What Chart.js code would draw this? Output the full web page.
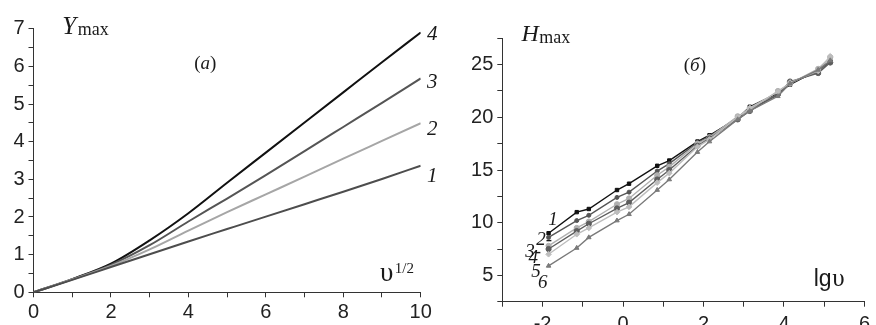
<!DOCTYPE html>
<html>
<head>
<meta charset="utf-8">
<script src="https://cdn.jsdelivr.net/npm/chart.js@4.4.1/dist/chart.umd.min.js"></script>
<style>
  html, body { margin: 0; padding: 0; background: #fff; }
  #wrap { position: relative; width: 876px; height: 325px; overflow: hidden; }
  #left { position: absolute; left: 0; top: 0; }
  #right { position: absolute; left: 440px; top: 0; }
</style>
</head>
<body>
<div id="wrap">
  <canvas id="left" width="440" height="325"></canvas>
  <canvas id="right" width="436" height="325"></canvas>
</div>
<script>
// ===== PANEL (a) DATA =====
const sqrtU = [0, 1, 2, 3, 4, 5, 6, 7, 8, 9, 10];
const yMax1 = [0, 0.33, 0.67, 1.01, 1.35, 1.68, 2.01, 2.34, 2.67, 3.01, 3.36];
const yMax2 = [0, 0.34, 0.70, 1.14, 1.64, 2.13, 2.60, 3.07, 3.55, 4.02, 4.49];
const yMax3 = [0, 0.35, 0.73, 1.25, 1.88, 2.49, 3.11, 3.75, 4.39, 5.03, 5.68];
const yMax4 = [0, 0.35, 0.76, 1.38, 2.10, 2.91, 3.71, 4.51, 5.31, 6.11, 6.90];

// ===== PANEL (б) DATA =====
const lgU = [-1.85, -1.15, -0.85, -0.15, 0.15, 0.85, 1.15, 1.85, 2.15, 2.85, 3.15, 3.85, 4.15, 4.85, 5.15];
const hMax1 = [9.0, 11.0, 11.3, 13.1, 13.7, 15.4, 15.9, 17.7, 18.3, 19.9, 21.0, 22.3, 23.1, 24.5, 25.3];
const hMax2 = [8.6, 10.2, 10.7, 12.4, 12.9, 14.9, 15.6, 17.6, 18.2, 20.0, 20.8, 22.1, 23.3, 24.3, 25.4];
const hMax3 = [7.8, 9.5, 10.1, 11.75, 12.3, 14.5, 15.3, 17.5, 18.1, 20.1, 20.7, 22.5, 23.2, 24.6, 25.7];
const hMax4 = [7.5, 9.2, 9.9, 11.35, 11.9, 14.1, 15.0, 17.3, 18.0, 19.8, 20.6, 22.2, 23.4, 24.2, 25.2];
const hMax5 = [7.0, 8.9, 9.5, 11.0, 11.5, 13.8, 14.7, 17.2, 17.9, 20.0, 20.9, 22.4, 23.3, 24.4, 25.8];
const hMax6 = [5.9, 7.6, 8.6, 10.2, 10.8, 13.1, 14.1, 16.7, 17.7, 19.8, 20.6, 22.0, 23.2, 24.5, 25.4];

// ===== HELPERS =====
function pts(xs, ys) {
  return xs.map((x, i) => ({ x: x, y: ys[i] }));
}

Chart.defaults.font.family = "'Liberation Sans', Arial, sans-serif";
Chart.defaults.color = "#222";

// text notes placed in data units through the chart's own scales
const notesPlugin = {
  id: "notes",
  afterDraw(chart, args, opts) {
    const ctx = chart.ctx;
    const xs = chart.scales.x, ys = chart.scales.y;
    ctx.save();
    ctx.fillStyle = "#1a1a1a";
    ctx.textBaseline = "alphabetic";
    opts.items.forEach(t => {
      ctx.font = t.font;
      ctx.fillText(t.text, xs.getPixelForValue(t.x), ys.getPixelForValue(t.y));
    });
    ctx.restore();
  }
};

const SERIF = "'Liberation Serif', 'Times New Roman', serif";
const tickFont = { size: 20 };

function axisX(min, max, pad, height) {
  return {
    type: "linear", min: min, max: max,
    ticks: { stepSize: 1, autoSkip: false, maxRotation: 0, padding: pad, font: tickFont,
      callback: v => (v % 2 === 0 ? v : "") },
    grid: { drawOnChartArea: false, tickLength: 5, color: "#333" },
    border: { color: "#333", width: 1 },
    afterFit: s => { s.height = height; }
  };
}

function axisY(min, max, step, major, width) {
  return {
    min: min, max: max,
    ticks: { stepSize: step, autoSkip: false, padding: 4, font: tickFont,
      callback: v => (Math.abs(v % major) < 1e-6 ? v : "") },
    grid: { drawOnChartArea: false, tickLength: 5, color: "#333" },
    border: { color: "#333", width: 1 },
    afterFit: s => { s.width = width; }
  };
}

// ===== PANEL (a) =====
function curve(ys, color) {
  return {
    data: pts(sqrtU, ys), borderColor: color, borderWidth: 2,
    pointRadius: 0, cubicInterpolationMode: "monotone", fill: false
  };
}

new Chart(document.getElementById("left"), {
  type: "line",
  data: {
    datasets: [
      curve(yMax1, "#4d4d4d"),
      curve(yMax2, "#a6a6a6"),
      curve(yMax3, "#555555"),
      curve(yMax4, "#111111")
    ]
  },
  options: {
    responsive: false, animation: false, devicePixelRatio: 1,
    layout: { padding: { left: 0, top: 28.7, right: 19.3, bottom: 0 } },
    plugins: {
      legend: { display: false }, tooltip: { enabled: false },
      notes: {
        items: [
          { text: "Y", x: 0.74, y: 6.86, font: "italic 25px " + SERIF },
          { text: "max", x: 1.14, y: 6.82, font: "18px " + SERIF },
          { text: "(", x: 4.15, y: 5.93, font: "19px " + SERIF },
          { text: "a", x: 4.31, y: 5.93, font: "italic 19px " + SERIF },
          { text: ")", x: 4.56, y: 5.93, font: "19px " + SERIF },
          { text: "4", x: 10.16, y: 6.70, font: "italic 21px " + SERIF },
          { text: "3", x: 10.16, y: 5.42, font: "italic 21px " + SERIF },
          { text: "2", x: 10.16, y: 4.18, font: "italic 21px " + SERIF },
          { text: "1", x: 10.16, y: 2.93, font: "italic 21px " + SERIF },
          { text: "\u03C5", x: 8.95, y: 0.30, font: "27px " + SERIF },
          { text: "1/2", x: 9.33, y: 0.52, font: "15px " + SERIF }
        ]
      }
    },
    scales: {
      x: axisX(0, 10, 3, 32.7),
      y: axisY(0, 7, 0.5, 1, 33.5)
    }
  },
  plugins: [notesPlugin]
});

// ===== PANEL (б) =====
function series(ys, color, style, r) {
  return {
    data: pts(lgU, ys), borderColor: color, backgroundColor: color, borderWidth: 1.4,
    pointStyle: style, pointRadius: r, pointBorderWidth: 1, tension: 0, fill: false
  };
}

new Chart(document.getElementById("right"), {
  type: "line",
  data: {
    datasets: [
      series(hMax6, "#7a7a7a", "triangle", 2.6),
      series(hMax5, "#bdbdbd", "rectRot", 2.8),
      series(hMax4, "#5e5e5e", "circle", 2.6),
      series(hMax3, "#b0b0b0", "circle", 2.6),
      series(hMax2, "#555555", "circle", 2.0),
      series(hMax1, "#111111", "rect", 2.4)
    ]
  },
  options: {
    responsive: false, animation: false, devicePixelRatio: 1,
    layout: { padding: { left: 0, top: 38.3, right: 7, bottom: 0 } },
    plugins: {
      legend: { display: false }, tooltip: { enabled: false },
      notes: {
        items: [
          { text: "H", x: -2.52, y: 27.2, font: "italic 24px " + SERIF },
          { text: "max", x: -2.08, y: 27.07, font: "18px " + SERIF },
          { text: "(", x: 1.51, y: 24.42, font: "19px " + SERIF },
          { text: "\u0431", x: 1.665, y: 24.42, font: "italic 19px " + SERIF },
          { text: ")", x: 1.91, y: 24.42, font: "19px " + SERIF },
          { text: "1", x: -1.86, y: 9.76, font: "italic 19px " + SERIF },
          { text: "2-", x: -2.155, y: 7.87, font: "italic 19px " + SERIF },
          { text: "3-", x: -2.43, y: 6.76, font: "italic 19px " + SERIF },
          { text: "4", x: -2.35, y: 6.16, font: "italic 19px " + SERIF },
          { text: "5", x: -2.28, y: 4.87, font: "italic 19px " + SERIF },
          { text: "6", x: -2.11, y: 3.80, font: "italic 19px " + SERIF },
          { text: "lg", x: 4.74, y: 3.99, font: "23px 'Liberation Sans', Arial, sans-serif" },
          { text: "\u03C5", x: 5.2, y: 3.99, font: "25px " + SERIF }
        ]
      }
    },
    scales: {
      x: axisX(-3, 6, 6, 23.3),
      y: axisY(2.5, 27.5, 2.5, 5, 62.3)
    }
  },
  plugins: [notesPlugin]
});
</script>
</body>
</html>
